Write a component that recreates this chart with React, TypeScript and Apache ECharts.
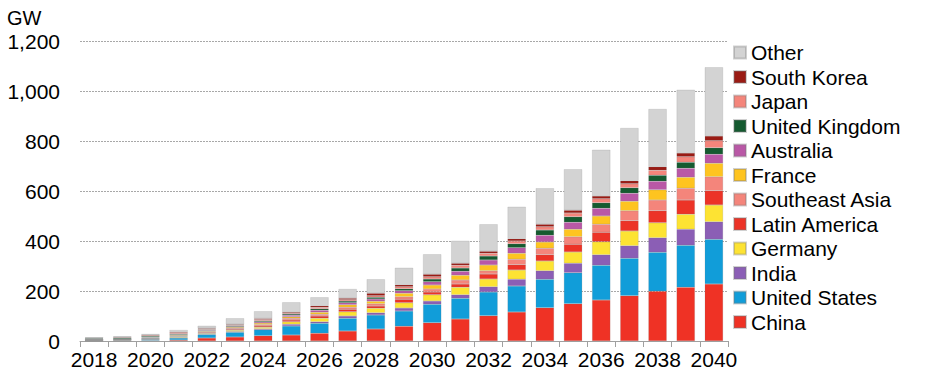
import React, { useEffect, useRef } from "react";
import * as echarts from "echarts";

const years = ["2018","2019","2020","2021","2022","2023","2024","2025","2026","2027","2028","2029","2030","2031","2032","2033","2034","2035","2036","2037","2038","2039","2040"];

const china = [1,1,2,4,12,16,21,24,31,40,48,59,73,88,101,116,133,149,164,181,199,215,228];
const unitedStates = [1,2,4,8,14,19,24,36,40,51,56,61,74,83,95,104,114,124,139,150,156,168,179];
const india = [0.3,0.5,1,2,2,3,4,7,6,9,9,12,13,14,21,27,34,38,42,50,58,64,70];
const germany = [2,2,2,3,3,5,6,10,14,17,18,21,25,30,31,37,39,45,52,59,60,60,67];
const latinAmerica = [0.3,0.5,1,2,3,4,5,7,9,10,9,14,11,13,20,21,25,31,38,41,48,57,57];
const southeastAsia = [0.3,0.5,1,2,3,4,6,7,7,8,9,10,12,16,13,22,26,30,32,40,43,47,56];
const france = [1,1,2,3,3,4,6,6,8,10,10,14,16,19,23,24,25,30,33,38,41,44,54];
const australia = [1,1,2,2,3,3,5,6,8,8,9,10,13,16,20,22,27,28,31,32,34,36,36];
const unitedKingdom = [3,4,4,3,2,3,4,5,6,7,7,8,11,13,16,16,21,22,22,22,24,24,26];
const japan = [2,3,4,5,3,3,5,4,6,5,6,8,9,11,11,11,13,15,16,16,20,22,28];
const southKorea = [1,1,2,3,3,3,4,4,6,6,10,8,10,8,8,9,10,11,11,12,14,15,19];
const other = [1,2,3,7,10,24,29,39,34,37,56,68,80,90,108,128,144,164,185,211,231,253,275];

const seriesDefs: [string, number[], string][] = [
  ["China", china, "#EF3225"],
  ["United States", unitedStates, "#119DD9"],
  ["India", india, "#8B5EB5"],
  ["Germany", germany, "#FDE333"],
  ["Latin America", latinAmerica, "#EC3327"],
  ["Southeast Asia", southeastAsia, "#F4857B"],
  ["France", france, "#FEC420"],
  ["Australia", australia, "#B958A6"],
  ["United Kingdom", unitedKingdom, "#155A30"],
  ["Japan", japan, "#F4857B"],
  ["South Korea", southKorea, "#9A1B14"],
  ["Other", other, "#D3D3D3"],
];

const FONT = "Liberation Sans, Arial, sans-serif";

export default function App() {
  const ref = useRef<HTMLDivElement>(null);
  useEffect(() => {
    if (!ref.current) return;
    const chart = echarts.init(ref.current, undefined, { renderer: "svg" });
    chart.setOption({
      animation: false,
      backgroundColor: "#ffffff",
      textStyle: { fontFamily: FONT },
      grid: { left: 80, right: 205, top: 41, bottom: 42, containLabel: false },
      graphic: [
        {
          type: "text",
          left: 7,
          top: 8,
          style: { text: "GW", fontSize: 20, fontFamily: FONT, fill: "#000" },
        },
      ],
      legend: {
        orient: "vertical",
        left: 728,
        top: 37,
        itemWidth: 12,
        itemHeight: 12,
        itemGap: 3.5,
        icon: "rect",
        data: seriesDefs.map((s) => s[0]).reverse(),
        textStyle: { fontSize: 21, lineHeight: 20, color: "#000", fontFamily: FONT },
      },
      xAxis: {
        type: "category",
        data: years,
        axisLine: { lineStyle: { color: "#A0A0A0", width: 1 } },
        axisTick: { show: true, alignWithLabel: false, length: 6, interval: 0, lineStyle: { color: "#A0A0A0" } },
        axisLabel: { interval: 1, fontSize: 21, color: "#000", margin: 8, fontFamily: FONT },
      },
      yAxis: {
        type: "value",
        min: 0,
        max: 1200,
        interval: 200,
        axisLine: { show: false },
        axisTick: { show: false },
        axisLabel: {
          fontSize: 21,
          color: "#000",
          margin: 20,
          fontFamily: FONT,
          formatter: (v: number) => v.toLocaleString("en-US"),
        },
        splitLine: { lineStyle: { color: "#A8A8A8", type: [2, 1], width: 1 } },
      },
      series: seriesDefs.map(([name, data, color]) => ({
        name,
        type: "bar",
        stack: "total",
        data,
        barCategoryGap: "35%",
        itemStyle: { color, borderColor: "rgba(120,120,120,0.35)", borderWidth: 0.5 },
      })),
    });
    return () => chart.dispose();
  }, []);
  return <div ref={ref} style={{ position: "absolute", left: 0, top: 0, width: 933, height: 383 }} />;
}
